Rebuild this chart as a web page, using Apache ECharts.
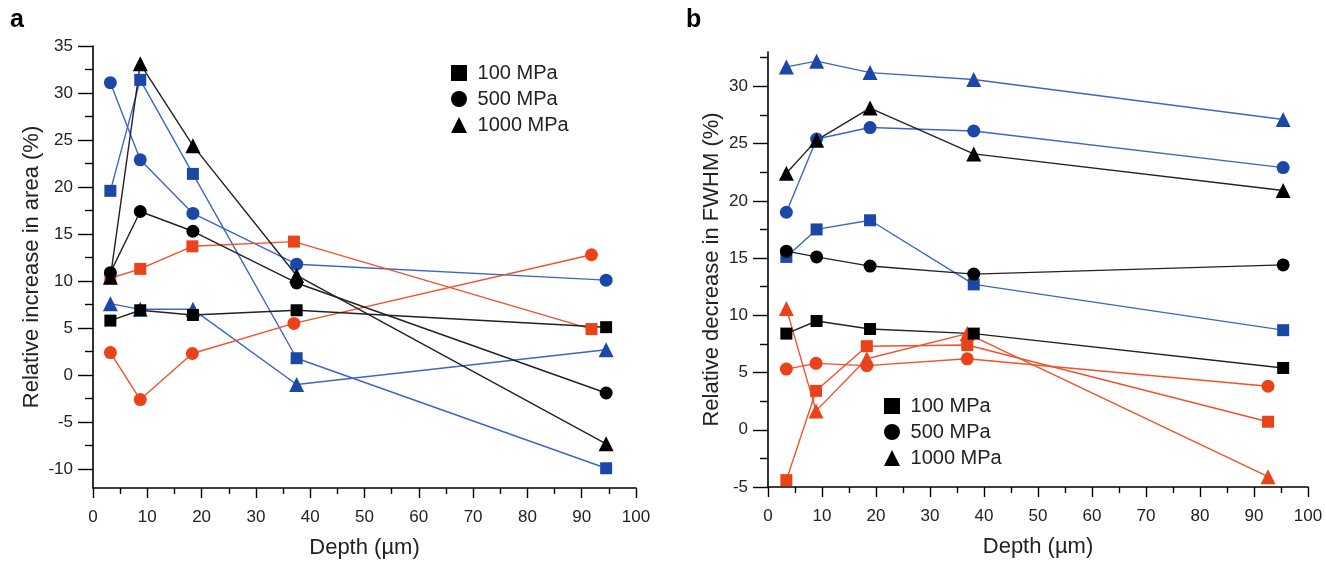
<!DOCTYPE html>
<html><head><meta charset="utf-8">
<script src="https://cdn.jsdelivr.net/npm/echarts@6/dist/echarts.min.js"></script>
<style>html,body{margin:0;padding:0;background:#fff}#c{width:1326px;height:561px}</style>
</head><body><div id="c"></div>
<script>
// ---- Panel a data ----
const depthA = [3.2, 8.7, 18.4, 37.5, 94.5];
const depthAOrange = [3.2, 8.7, 18.3, 37.0, 91.8];
const aBlueSquare = [19.6, 31.4, 21.4, 1.8, -9.9];
const aBlueCircle = [31.1, 22.9, 17.2, 11.8, 10.1];
const aBlueTriangle = [7.6, 7.0, 7.0, -1.0, 2.7];
const aBlackSquare = [5.8, 6.9, 6.4, 6.9, 5.1];
const aBlackCircle = [10.9, 17.4, 15.3, 9.8, -1.9];
const aBlackTriangle = [10.4, 33.1, 24.4, 10.6, -7.3];
const aOrangeSquare = [10.3, 11.3, 13.7, 14.2, 4.9];
const aOrangeCircle = [2.4, -2.6, 2.3, 5.5, 12.8];

// ---- Panel b data ----
const depthB = [3.4, 9.0, 18.9, 38.1, 95.4];
const depthBOrange = [3.4, 8.9, 18.3, 36.9, 92.6];
const bBlueTriangle = [31.7, 32.2, 31.2, 30.6, 27.1];
const bBlueCircle = [19.0, 25.4, 26.4, 26.1, 22.9];
const bBlueSquare = [15.1, 17.5, 18.3, 12.7, 8.7];
const bBlackTriangle = [22.4, 25.3, 28.1, 24.1, 20.9];
const bBlackCircle = [15.6, 15.1, 14.3, 13.6, 14.4];
const bBlackSquare = [8.4, 9.5, 8.8, 8.4, 5.4];
const bOrangeTriangle = [10.6, 1.65, 6.2, 8.4, -4.1];
const bOrangeSquare = [-4.4, 3.4, 7.3, 7.4, 0.7];
const bOrangeCircle = [5.3, 5.8, 5.6, 6.2, 3.8];

// ---- tick labels ----
const yTicksA = [-10, -5, 0, 5, 10, 15, 20, 25, 30, 35];
const yMinorA = [-7.5, -2.5, 2.5, 7.5, 12.5, 17.5, 22.5, 27.5, 32.5];
const yTicksB = [-5, 0, 5, 10, 15, 20, 25, 30];
const yMinorB = [-2.5, 2.5, 7.5, 12.5, 17.5, 22.5, 27.5, 32.5];
const legendNames = ['100 MPa', '500 MPa', '1000 MPa'];

const FONT = 'Liberation Sans, Arial, sans-serif';
const BLUE_L = '#3d66c4', BLUE_M = '#1d47a6';
const ORANGE_L = '#f0522c', ORANGE_M = '#ea431a';
const BLACK = '#000';
const SYM = {rect: 12, circle: 13, triangle: 15};

function pairs(xs, ys){ return xs.map((x,i)=>[x, ys[i]]); }
function mk(xs, ys, sym, lc, mc, gi){
  return {type:'line', xAxisIndex: gi*2, yAxisIndex: gi*2, data: pairs(xs, ys),
    symbol: sym, symbolSize: SYM[sym], showSymbol: true,
    lineStyle:{color: lc, width: 1.4}, itemStyle:{color: mc}, z: 3,
    emphasis:{disabled:true}, animation:false};
}

function xAxes(gi){
  const base = {type:'value', gridIndex: gi, min:0, max:100, interval:10,
    axisLine:{show:true, onZero:false, lineStyle:{color:'#000', width:1.6}},
    axisTick:{show:true, inside:false, length:10, lineStyle:{color:'#000', width:1.4}},
    minorTick:{show:true, splitNumber:2, length:6, lineStyle:{color:'#000', width:1.4}},
    splitLine:{show:false},
    axisLabel:{fontFamily:FONT, fontSize:17, color:'#222', margin:21},
    name:'Depth (\u00b5m)', nameLocation:'middle', nameGap:49,
    nameTextStyle:{fontFamily:FONT, fontSize:22, color:'#222'}};
  const dummy = {type:'value', gridIndex: gi, min:0, max:100, show:false};
  return [base, dummy];
}
function yAxes(gi, min, max, ticks, minor, title, nameGap){
  const main = {type:'value', gridIndex: gi, min:min, max:max, position:'left',
    axisLine:{show:true, onZero:false, lineStyle:{color:'#000', width:1.6}},
    axisTick:{show:true, length:15, customValues: ticks, lineStyle:{color:'#000', width:1.4}},
    splitLine:{show:false},
    axisLabel:{fontFamily:FONT, fontSize:17, color:'#222', margin: 20, customValues: ticks},
    name: title, nameLocation:'middle', nameGap: nameGap, nameRotate: 90,
    nameTextStyle:{fontFamily:FONT, fontSize:22, color:'#222'}};
  const mn = {type:'value', gridIndex: gi, min:min, max:max, position:'left', offset:0,
    axisLine:{show:false, onZero:false},
    axisTick:{show:true, length:8, customValues: minor, lineStyle:{color:'#000', width:1.4}},
    splitLine:{show:false}, axisLabel:{show:false}};
  return [main, mn];
}

const series = [
  // panel a
  mk(depthA, aBlueSquare, 'rect', BLUE_L, BLUE_M, 0),
  mk(depthA, aBlueCircle, 'circle', BLUE_L, BLUE_M, 0),
  mk(depthA, aBlueTriangle, 'triangle', BLUE_L, BLUE_M, 0),
  mk(depthAOrange, aOrangeSquare, 'rect', ORANGE_L, ORANGE_M, 0),
  mk(depthAOrange, aOrangeCircle, 'circle', ORANGE_L, ORANGE_M, 0),
  mk(depthA, aBlackSquare, 'rect', '#222', BLACK, 0),
  mk(depthA, aBlackCircle, 'circle', '#222', BLACK, 0),
  mk(depthA, aBlackTriangle, 'triangle', '#222', BLACK, 0),
  // panel b
  mk(depthB, bBlueTriangle, 'triangle', BLUE_L, BLUE_M, 1),
  mk(depthB, bBlueCircle, 'circle', BLUE_L, BLUE_M, 1),
  mk(depthB, bBlueSquare, 'rect', BLUE_L, BLUE_M, 1),
  mk(depthBOrange, bOrangeTriangle, 'triangle', ORANGE_L, ORANGE_M, 1),
  mk(depthBOrange, bOrangeSquare, 'rect', ORANGE_L, ORANGE_M, 1),
  mk(depthBOrange, bOrangeCircle, 'circle', ORANGE_L, ORANGE_M, 1),
  mk(depthB, bBlackTriangle, 'triangle', '#222', BLACK, 1),
  mk(depthB, bBlackCircle, 'circle', '#222', BLACK, 1),
  mk(depthB, bBlackSquare, 'rect', '#222', BLACK, 1),
];
const icons = ['rect', 'circle', 'triangle'];
legendNames.forEach((n)=>{
  series.push({type:'line', name:n, data:[], xAxisIndex:0, yAxisIndex:0, color:'#000',
    itemStyle:{color:'#000'}, lineStyle:{color:'#000'}, animation:false});
});
function legend(left, top, gap){
  return {left:left, top:top, orient:'vertical', itemWidth:16, itemHeight:16, itemGap:gap,
    selectedMode:false, formatter: (n)=>' ' + n, padding:0,
    textStyle:{fontFamily:FONT, fontSize:20, color:'#222'},
    data: legendNames.map((n,i)=>({name:n, icon: icons[i]}))};
}

const chart = echarts.init(document.getElementById('c'), null, {renderer:'canvas'});
chart.setOption({
  animation:false,
  backgroundColor:'#fff',
  grid:[{left:93, top:46, width:543, height:442, containLabel:false, outerBoundsMode:'none'},
        {left:768, top:52, width:540, height:435, containLabel:false, outerBoundsMode:'none'}],
  xAxis:[...xAxes(0), ...xAxes(1)],
  yAxis:[...yAxes(0, -12, 35, yTicksA, yMinorA, 'Relative increase in area (%)', 50),
         ...yAxes(1, -5, 33, yTicksB, yMinorB, 'Relative decrease in FWHM (%)', 45)],
  legend:[legend(451, 63, 6), legend(884, 396, 6)],
  graphic:[
    {type:'text', left:10, top:8, style:{text:'a', font:'bold 25px '+FONT, fill:'#000'}},
    {type:'text', left:686, top:8, style:{text:'b', font:'bold 25px '+FONT, fill:'#000'}}
  ],
  series: series
});
</script></body></html>
